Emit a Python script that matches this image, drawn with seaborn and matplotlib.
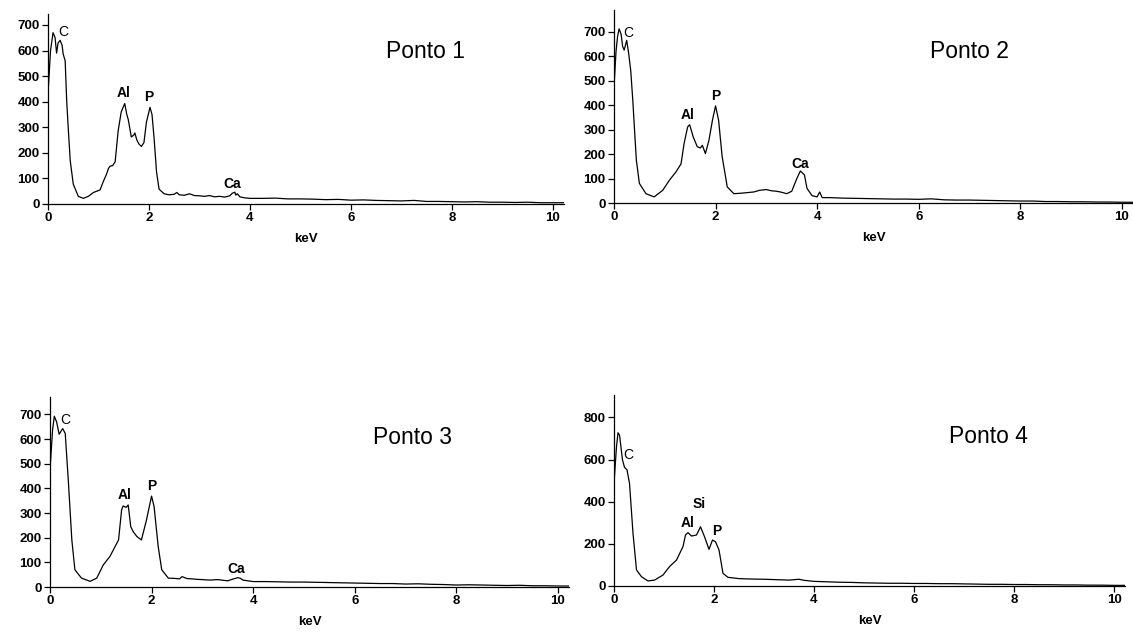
import matplotlib
matplotlib.use("Agg")
import matplotlib.pyplot as plt
import seaborn as sns
import pandas as pd

# energies (keV) and counts
e1 = [0.0, 0.05, 0.10, 0.14, 0.17, 0.20, 0.24, 0.28, 0.30, 0.34, 0.37, 0.40, 0.44, 0.50, 0.60, 0.70, 0.80,
      0.90, 1.03, 1.10, 1.16, 1.20, 1.23, 1.28, 1.33, 1.39, 1.45, 1.52, 1.56, 1.59, 1.65, 1.70, 1.72, 1.76,
      1.80, 1.85, 1.90, 1.95, 2.02, 2.06, 2.10, 2.15, 2.20, 2.30, 2.40, 2.50, 2.55, 2.60, 2.70, 2.80, 2.90,
      3.00, 3.10, 3.20, 3.30, 3.40, 3.50, 3.60, 3.65, 3.70, 3.72, 3.75, 3.80, 3.90, 4.00, 4.25, 4.50, 4.75,
      5.00, 5.25, 5.50, 5.75, 6.00, 6.25, 6.50, 6.75, 7.00, 7.25, 7.50, 7.75, 8.00, 8.25, 8.50, 8.75, 9.00,
      9.25, 9.50, 9.75, 10.00, 10.22]
c1 = [430, 600, 670, 651, 590, 630, 640, 620, 587, 560, 404, 300, 170, 78, 30, 22, 30,
      45, 55, 90, 117, 140, 148, 150, 165, 287, 360, 393, 350, 330, 262, 270, 278, 250,
      235, 225, 240, 320, 378, 350, 260, 125, 58, 40, 36, 38, 45, 36, 34, 40, 33,
      32, 30, 33, 28, 30, 27, 32, 42, 46, 35, 40, 28, 24, 22, 22, 23, 20,
      20, 19, 17, 18, 15, 16, 14, 13, 12, 14, 10, 10, 9, 8, 9, 7, 7,
      6, 7, 5, 5, 5]

e2 = [0.0, 0.04, 0.07, 0.10, 0.14, 0.17, 0.20, 0.25, 0.29, 0.33, 0.37, 0.44, 0.50, 0.63, 0.79, 0.96, 1.09,
      1.22, 1.32, 1.38, 1.45, 1.49, 1.56, 1.64, 1.70, 1.74, 1.80, 1.87, 1.94, 2.00, 2.06, 2.13, 2.23, 2.36,
      2.50, 2.60, 2.75, 2.87, 3.00, 3.10, 3.20, 3.30, 3.40, 3.50, 3.60, 3.67, 3.75, 3.80, 3.90, 4.00, 4.05,
      4.10, 4.25, 4.50, 4.75, 5.00, 5.25, 5.50, 5.75, 6.00, 6.25, 6.50, 6.75, 7.00, 7.25, 7.50, 7.75, 8.00,
      8.25, 8.50, 8.75, 9.00, 9.25, 9.50, 9.75, 10.00, 10.22]
c2 = [475, 620, 680, 712, 690, 640, 625, 665, 610, 540, 420, 175, 80, 38, 25, 52, 93,
      127, 160, 243, 311, 320, 270, 230, 225, 236, 202, 257, 340, 397, 338, 189, 66, 38,
      40, 42, 45, 52, 55, 50, 48, 44, 38, 48, 100, 131, 115, 60, 30, 25, 45,
      22, 22, 20, 19, 18, 17, 16, 16, 15, 17, 13, 12, 12, 11, 10, 9, 8,
      8, 6, 6, 5, 5, 4, 4, 3, 3]

e3 = [0.0, 0.05, 0.085, 0.13, 0.18, 0.25, 0.30, 0.36, 0.43, 0.49, 0.62, 0.79, 0.92, 1.05, 1.18, 1.35, 1.41,
      1.44, 1.50, 1.54, 1.59, 1.64, 1.71, 1.80, 1.90, 2.00, 2.05, 2.13, 2.20, 2.33, 2.45, 2.55, 2.60, 2.70,
      2.80, 2.90, 3.00, 3.15, 3.30, 3.50, 3.60, 3.70, 3.75, 3.80, 4.00, 4.25, 4.50, 4.75, 5.00, 5.25, 5.50,
      5.75, 6.00, 6.25, 6.50, 6.75, 7.00, 7.25, 7.50, 7.75, 8.00, 8.25, 8.50, 8.75, 9.00, 9.25, 9.50, 9.75,
      10.00, 10.22]
c3 = [475, 636, 693, 670, 620, 643, 623, 434, 191, 70, 36, 23, 36, 90, 124, 191, 313,
      329, 323, 333, 245, 224, 205, 191, 272, 369, 326, 165, 70, 36, 35, 33, 42, 34,
      33, 31, 30, 28, 30, 25, 32, 38, 35, 28, 22, 22, 21, 20, 20, 19, 18,
      17, 16, 15, 14, 14, 12, 13, 11, 10, 8, 9, 8, 7, 6, 7, 5, 5,
      4, 4]

e4 = [0.0, 0.05, 0.08, 0.11, 0.17, 0.21, 0.26, 0.31, 0.38, 0.45, 0.55, 0.68, 0.81, 0.98, 1.11, 1.25, 1.38,
      1.43, 1.48, 1.55, 1.65, 1.73, 1.81, 1.90, 1.97, 2.03, 2.10, 2.18, 2.28, 2.50, 2.75, 3.00, 3.25, 3.50,
      3.70, 3.80, 4.00, 4.25, 4.50, 4.75, 5.00, 5.25, 5.50, 5.75, 6.00, 6.25, 6.50, 6.75, 7.00, 7.25, 7.50,
      7.75, 8.00, 8.25, 8.50, 8.75, 9.00, 9.25, 9.50, 9.75, 10.00, 10.22]
c4 = [487, 661, 727, 716, 598, 563, 551, 487, 250, 76, 44, 24, 28, 52, 92, 123, 187,
      242, 253, 237, 242, 281, 234, 174, 218, 210, 171, 60, 41, 35, 33, 32, 30, 28,
      32, 27, 22, 20, 18, 17, 15, 14, 13, 13, 12, 12, 11, 11, 10, 9, 8,
      8, 7, 7, 6, 6, 5, 5, 4, 4, 3, 3]

point_names = ["Ponto 1", "Ponto 2", "Ponto 3", "Ponto 4"]
y_tops = [743, 789, 771, 906]
y_tick_steps = [100, 100, 100, 200]

peak_labels = [
    [("C", 0.30, 671), ("Al", 1.49, 436), ("P", 2.00, 417), ("Ca", 3.64, 78)],
    [("C", 0.29, 697), ("Al", 1.45, 359), ("P", 2.00, 437), ("Ca", 3.67, 161)],
    [("C", 0.30, 677), ("Al", 1.46, 373), ("P", 2.00, 410), ("Ca", 3.67, 73)],
    [("C", 0.28, 621), ("Al", 1.48, 297), ("Si", 1.71, 389), ("P", 2.06, 261)],
]
title_pos = [(7.48, 598), (7.0, 618), (7.13, 607), (7.48, 707)]

# axes boxes in pixels: left, right, bottom (zero line), top
W, H = 1133, 636
boxes = [(48, 564, 204, 14), (614, 1133, 203, 10), (50, 569, 587, 397), (614, 1125, 586, 395)]

sns.set_style("ticks")
plt.rcParams["font.family"] = ["Liberation Sans", "DejaVu Sans"]
plt.rcParams.update({"text.color": "black", "axes.labelcolor": "black",
                     "xtick.color": "black", "ytick.color": "black",
                     "axes.edgecolor": "black"})

fig = plt.figure(figsize=(W / 100, H / 100), dpi=100)

spectra = [(e1, c1), (e2, c2), (e3, c3), (e4, c4)]
for i, (energy, counts) in enumerate(spectra):
    l, r, b, t = boxes[i]
    ax = fig.add_axes([l / W, 1 - b / H, (r - l) / W, (b - t) / H])
    df = pd.DataFrame({"keV": energy, "counts": counts})
    sns.lineplot(data=df, x="keV", y="counts", ax=ax, color="black", linewidth=0.9, sort=False)

    ax.set_xlim(0, 10.22)
    ax.set_ylim(0, y_tops[i])
    ax.set_xticks(range(0, 11, 2))
    ax.set_yticks(range(0, y_tops[i], y_tick_steps[i]))
    sns.despine(ax=ax)
    ax.spines["left"].set_linewidth(0.9)
    ax.spines["bottom"].set_linewidth(0.9)
    ax.tick_params(length=4, width=0.9, pad=2, labelsize=9.5)
    for lab in ax.get_xticklabels() + ax.get_yticklabels():
        lab.set_fontweight("bold")
    ax.set_xlabel("keV", fontsize=9.5, fontweight="bold", labelpad=6)
    ax.set_ylabel("")

    for name, x, y in peak_labels[i]:
        ax.text(x, y, name, ha="center", va="center", fontsize=10,
                fontweight="normal" if name == "C" else "bold")
    tx, ty = title_pos[i]
    ax.text(tx, ty, point_names[i], ha="center", va="center", fontsize=16.5)

fig.savefig("out.png", dpi=100)
